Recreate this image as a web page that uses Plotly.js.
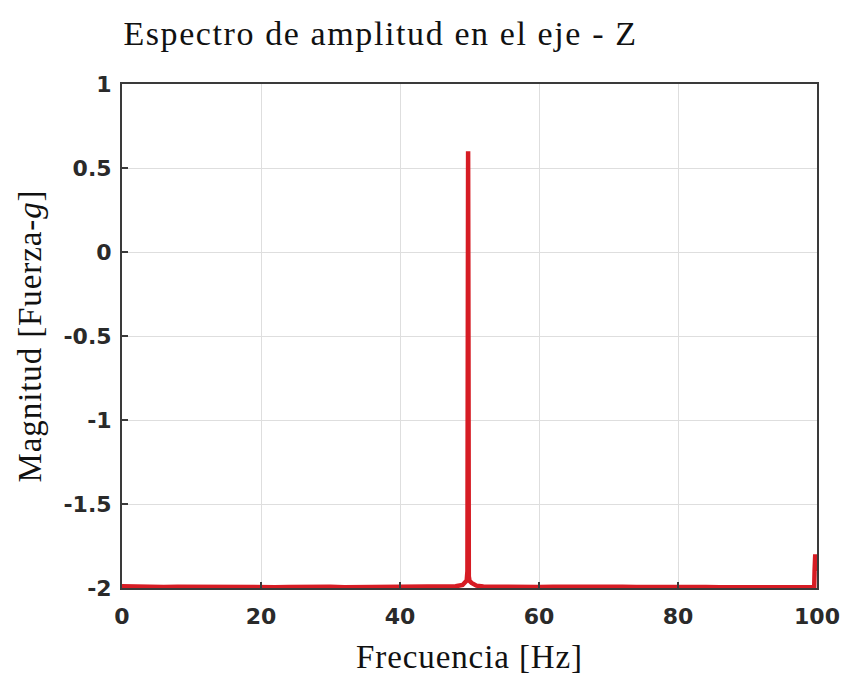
<!DOCTYPE html>
<html>
<head>
<meta charset="utf-8">
<script src="https://cdn.plot.ly/plotly-3.0.1.min.js"></script>
<style>
html,body{margin:0;padding:0;background:#fff;}
#chart{width:845px;height:693px;}
.gtitle{letter-spacing:1.6px;}
.xtitle,.ytitle{letter-spacing:0.9px;}
</style>
</head>
<body>
<div id="chart"></div>
<script>
var frequency = [0, 2, 4, 6, 8, 10, 12, 14, 16, 18, 20, 22, 24, 26, 28, 30, 32, 34, 36, 38, 40, 42, 44, 46, 48,
  49.0, 49.4, 49.6, 49.7, 49.75, 49.8, 49.85, 49.9, 50.0, 50.3, 50.6, 51.0, 52, 54, 56, 58, 60, 62, 64, 66, 68, 70,
  72, 74, 76, 78, 80, 82, 84, 86, 88, 90, 92, 94, 96, 98, 99.4, 99.6, 99.65, 99.7, 99.75, 99.8, 100];
var magnitude = [-1.990, -1.993, -1.992, -1.994, -1.993, -1.994, -1.992, -1.994, -1.993, -1.994, -1.993, -1.995,
  -1.994, -1.992, -1.994, -1.993, -1.995, -1.994, -1.993, -1.995, -1.994, -1.993, -1.995, -1.992, -1.990,
  -1.982, -1.968, -1.955, -1.9, -0.5, 0.6, -0.5, -1.93, -1.958, -1.97, -1.98, -1.986, -1.991, -1.993, -1.993,
  -1.995, -1.994, -1.993, -1.992, -1.994, -1.992, -1.991, -1.993, -1.994, -1.993, -1.995, -1.994, -1.995, -1.994,
  -1.995, -1.994, -1.995, -1.996, -1.995, -1.996, -1.995, -1.995, -1.992, -1.9, -1.8, -1.8, -1.86, -1.9];

var xTicks = [0, 20, 40, 60, 80, 100];
var yTicks = [-2, -1.5, -1, -0.5, 0, 0.5, 1];
var yTickLabels = ['-2', '-1.5', '-1', '-0.5', '0', '0.5', '1'];

var trace = {
  x: frequency, y: magnitude, type: 'scatter', mode: 'lines',
  line: {color: 'rgb(214,28,36)', width: 4.5}, hoverinfo: 'none'
};

var axisCommon = {
  showline: true, mirror: true, linecolor: '#3a3a3a', linewidth: 2,
  ticks: 'inside', ticklen: 6, tickwidth: 1.5, tickcolor: '#3a3a3a',
  showgrid: true, gridcolor: '#dedede', gridwidth: 1, zeroline: false,
  tickfont: {family: 'DejaVu Sans, sans-serif', size: 22, color: '#2a2a2a', weight: 'bold'}
};

var serif = 'Liberation Serif, Times New Roman, serif';

var layout = {
  width: 845, height: 693,
  margin: {l: 122, r: 28, t: 84, b: 105},
  paper_bgcolor: '#ffffff', plot_bgcolor: '#ffffff',
  showlegend: false,
  title: {
    text: 'Espectro de amplitud en el eje - Z',
    font: {family: serif, size: 34, color: '#111'},
    x: 0.002, xanchor: 'left', xref: 'paper', y: 0.952, yanchor: 'middle'
  },
  xaxis: Object.assign({}, axisCommon, {
    range: [0, 100], tickvals: xTicks, ticktext: xTicks.map(String),
    ticklabelstandoff: 8,
    title: {text: 'Frecuencia [Hz]', font: {family: serif, size: 33, color: '#111'}, standoff: 16}
  }),
  yaxis: Object.assign({}, axisCommon, {
    range: [-2, 1], tickvals: yTicks, ticktext: yTickLabels,
    ticklabelstandoff: 4,
    title: {text: 'Magnitud [Fuerza-<i>g</i>]', font: {family: serif, size: 33, color: '#111'}, standoff: 12}
  })
};

Plotly.newPlot('chart', [trace], layout, {displayModeBar: false, staticPlot: true});
</script>
</body>
</html>
